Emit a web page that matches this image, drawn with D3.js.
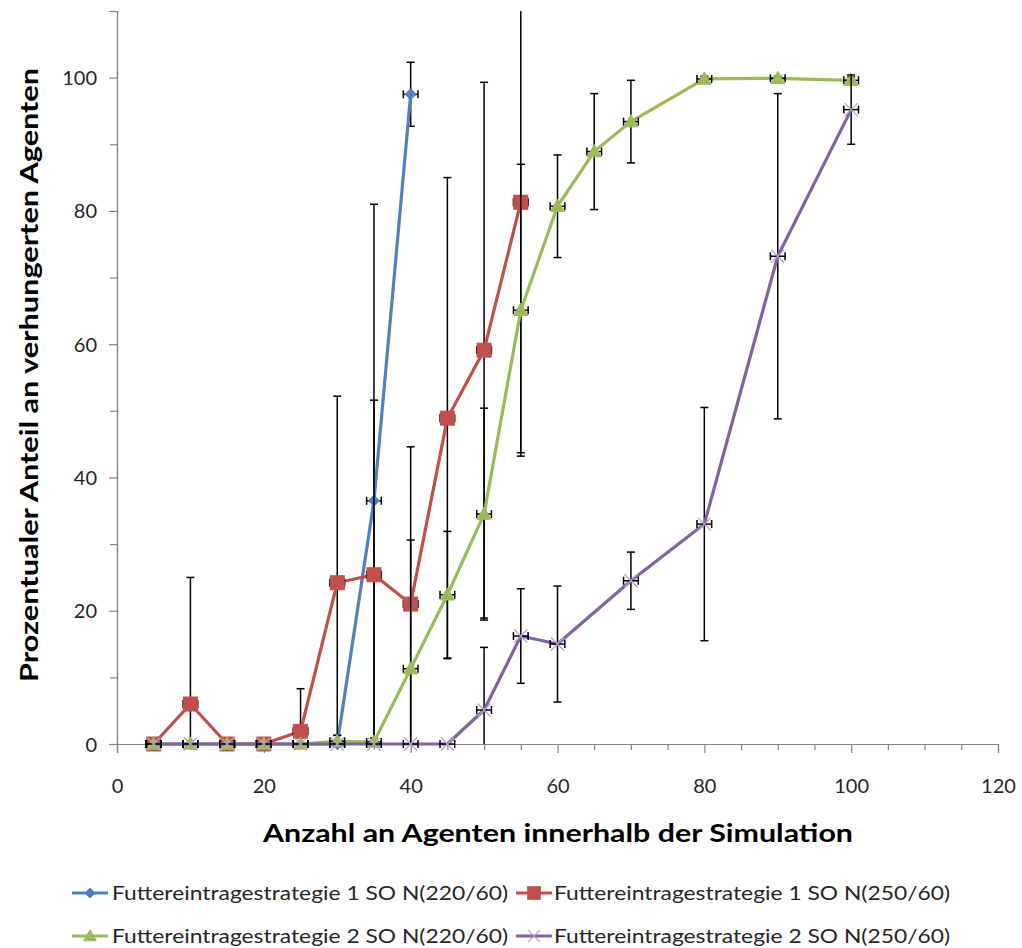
<!DOCTYPE html>
<html>
<head>
<meta charset="utf-8">
<script src="https://cdn.jsdelivr.net/npm/d3@7"></script>
<style>
  html, body { margin: 0; padding: 0; background: #fff; }
  svg { display: block; font-family: Lato, "Open Sans", sans-serif; }
</style>
</head>
<body>
<svg id="chart" width="1022" height="948"></svg>
<script>
// Agents in the simulation (x) and share of starved agents in percent (y), with standard deviations
const xS1a = [5, 10, 15, 20, 25, 30, 35, 40];
const yS1a = [0, 0, 0, 0, 0, 0, 36.5, 97.5];
const eS1a = [0, 0, 0, 0, 0, 1.3, 44.5, 4.8];

const xS1b = [5, 10, 15, 20, 25, 30, 35, 40, 45, 50, 55];
const yS1b = [0, 6.0, 0, 0, 1.9, 24.2, 25.4, 21.0, 48.9, 59.1, 81.3];
const eS1b = [0, 19.0, 0, 0, 6.4, 28.0, 26.2, 23.6, 36.1, 40.2, 37.6];

const xS2a = [5, 10, 15, 20, 25, 30, 35, 40, 45, 50, 55, 60, 65, 70, 80, 90, 100];
const yS2a = [0, 0, 0, 0, 0, 0.4, 0.3, 11.3, 22.4, 34.5, 65.1, 80.7, 88.9, 93.4, 99.8, 99.9, 99.6];
const eS2a = [0, 0, 0, 0, 0, 0.9, 0.6, 19.3, 9.5, 15.9, 21.9, 7.7, 8.7, 6.2, 0.4, 0.3, 0.5];

const xS2b = [5, 10, 15, 20, 25, 30, 35, 40, 45, 50, 55, 60, 70, 80, 90, 100];
const yS2b = [0, 0, 0, 0, 0, 0, 0, 0, 0, 5.1, 16.2, 15.0, 24.5, 33.0, 73.2, 95.2];
const eS2b = [0, 0, 0, 0, 0, 0, 0, 0, 0, 9.4, 7.1, 8.7, 4.3, 17.5, 24.4, 5.2];

// horizontal error (agents), same for every point
const xErr = 1;

const seriesNames = [
  "Futtereintragestrategie 1 SO N(220/60)",
  "Futtereintragestrategie 1 SO N(250/60)",
  "Futtereintragestrategie 2 SO N(220/60)",
  "Futtereintragestrategie 2 SO N(250/60)"
];
const xTicks = [0, 20, 40, 60, 80, 100, 120];
const yTicks = [0, 20, 40, 60, 80, 100];
const xTitle = "Anzahl an Agenten innerhalb der Simulation";
const yTitle = "Prozentualer Anteil an verhungerten Agenten";

const series = [
  { name: seriesNames[0], xs: xS1a, ys: yS1a, es: eS1a, color: "#4F81BD", marker: "diamond" },
  { name: seriesNames[1], xs: xS1b, ys: yS1b, es: eS1b, color: "#C0504D", marker: "square" },
  { name: seriesNames[2], xs: xS2a, ys: yS2a, es: eS2a, color: "#9BBB59", marker: "triangle" },
  { name: seriesNames[3], xs: xS2b, ys: yS2b, es: eS2b, color: "#8064A2", marker: "cross" }
];

const svg = d3.select("#chart");
const x = d3.scaleLinear().domain([0, 120]).range([117, 998]);
const y = d3.scaleLinear().domain([0, 110]).range([744, 11]);
const axisColor = "#868686";
const textColor = "#262626";

svg.append("defs").append("clipPath").attr("id", "plot")
  .append("rect").attr("x", x(0)).attr("y", y(110)).attr("width", x(120) - x(0)).attr("height", y(0) - y(110));

// ---- axes ----
const yAxisMajor = d3.axisLeft(y).tickValues(yTicks).tickSize(8).tickFormat(d3.format("d"));
const yAxisMinor = d3.axisLeft(y).tickValues(d3.range(10, 111, 20)).tickSize(7).tickFormat("");
const xAxisMajor = d3.axisBottom(x).tickValues(xTicks).tickSize(9).tickFormat(d3.format("d"));
const xAxisMinor = d3.axisBottom(x).tickValues(d3.range(5, 120, 5).filter(v => v % 20 !== 0)).tickSize(6).tickFormat("");

function styleAxis(g) {
  g.selectAll(".domain").attr("stroke", axisColor).attr("stroke-width", 1.2);
  g.selectAll(".tick line").attr("stroke", axisColor).attr("stroke-width", 1.2);
  g.selectAll(".tick text").attr("fill", textColor).attr("font-size", 20).attr("font-family", "Lato, sans-serif");
}

svg.append("g").attr("transform", `translate(${x(0)},0)`).call(yAxisMinor).call(styleAxis);
svg.append("g").attr("transform", `translate(${x(0)},0)`).call(yAxisMajor).call(styleAxis)
  .selectAll(".tick text").attr("x", -20).attr("dy", "0.35em");
svg.append("g").attr("transform", `translate(0,${y(0)})`).call(xAxisMinor).call(styleAxis);
svg.append("g").attr("transform", `translate(0,${y(0)})`).call(xAxisMajor).call(styleAxis)
  .selectAll(".tick text").attr("y", 42).attr("dy", "0.35em");

// ---- axis titles ----
svg.append("text")
  .attr("x", 558).attr("y", 842)
  .attr("text-anchor", "middle")
  .attr("font-size", 25).attr("font-weight", "bold").attr("fill", "#000")
  .attr("textLength", 590).attr("lengthAdjust", "spacingAndGlyphs")
  .text(xTitle);

svg.append("text")
  .attr("transform", "translate(38,375) rotate(-90)")
  .attr("text-anchor", "middle")
  .attr("font-size", 25).attr("font-weight", "bold").attr("fill", "#000")
  .attr("textLength", 614).attr("lengthAdjust", "spacingAndGlyphs")
  .text(yTitle);

// ---- markers ----
function drawMarker(g, type, color, cx, cy, scale = 1) {
  if (type === "diamond") {
    const r = 5.5 * scale;
    g.append("path").attr("d", `M${cx},${cy - r}L${cx + r},${cy}L${cx},${cy + r}L${cx - r},${cy}Z`)
      .attr("fill", color).attr("stroke", color).attr("stroke-width", 1);
  } else if (type === "square") {
    const r = 7 * scale;
    g.append("rect").attr("x", cx - r).attr("y", cy - r).attr("width", 2 * r).attr("height", 2 * r)
      .attr("fill", color).attr("stroke", color).attr("stroke-width", 1);
  } else if (type === "triangle") {
    const r = 7 * scale;
    g.append("path").attr("d", `M${cx},${cy - r}L${cx + r},${cy + r * 0.75}L${cx - r},${cy + r * 0.75}Z`)
      .attr("fill", color).attr("stroke", color).attr("stroke-width", 1);
  } else if (type === "cross") {
    const r = 6.5 * scale;
    g.append("path").attr("d", `M${cx - r},${cy - r}L${cx + r},${cy + r}M${cx - r},${cy + r}L${cx + r},${cy - r}`)
      .attr("stroke", "#B3A2C7").attr("stroke-width", 1.2).attr("fill", "none");
  }
}

const plot = svg.append("g");
const line = d3.line().x(d => x(d.x)).y(d => y(d.y));

series.forEach(s => {
  const pts = s.xs.map((v, i) => ({ x: v, y: s.ys[i], e: s.es[i] }));
  const g = plot.append("g");
  const clipped = g.append("g").attr("clip-path", "url(#plot)");

  // series line
  g.append("path").datum(pts).attr("d", line)
    .attr("fill", "none").attr("stroke", s.color).attr("stroke-width", 3.2)
    .attr("stroke-linejoin", "round");

  // vertical error bars (kept inside the plot area)
  const eb = clipped.append("g").attr("stroke", "#000").attr("stroke-width", 1.5).attr("fill", "none");
  pts.filter(p => p.e > 0).forEach(p => {
    const cx = x(p.x);
    eb.append("line").attr("x1", cx).attr("x2", cx).attr("y1", y(p.y + p.e)).attr("y2", y(p.y - p.e));
    eb.append("line").attr("x1", cx - 4).attr("x2", cx + 4).attr("y1", y(p.y + p.e)).attr("y2", y(p.y + p.e));
    eb.append("line").attr("x1", cx - 4).attr("x2", cx + 4).attr("y1", y(p.y - p.e)).attr("y2", y(p.y - p.e));
  });
  // horizontal error bars
  const hb = g.append("g").attr("stroke", "#000").attr("stroke-width", 1.5).attr("fill", "none");
  pts.forEach(p => {
    const cy = y(p.y);
    hb.append("line").attr("x1", x(p.x - xErr)).attr("x2", x(p.x + xErr)).attr("y1", cy).attr("y2", cy);
    hb.append("line").attr("x1", x(p.x - xErr)).attr("x2", x(p.x - xErr)).attr("y1", cy - 4).attr("y2", cy + 4);
    hb.append("line").attr("x1", x(p.x + xErr)).attr("x2", x(p.x + xErr)).attr("y1", cy - 4).attr("y2", cy + 4);
  });

  // markers
  const mg = g.append("g");
  pts.forEach(p => drawMarker(mg, s.marker, s.color, x(p.x), y(p.y)));
});

// ---- legend ----
const legendPos = [
  { lx: 72, tx: 112, cy: 893 },
  { lx: 516, tx: 554, cy: 893 },
  { lx: 72, tx: 112, cy: 936 },
  { lx: 516, tx: 554, cy: 936 }
];
series.forEach((s, i) => {
  const p = legendPos[i];
  const g = svg.append("g");
  g.append("line").attr("x1", p.lx).attr("x2", p.lx + 36).attr("y1", p.cy).attr("y2", p.cy)
    .attr("stroke", s.color).attr("stroke-width", 3.2);
  drawMarker(g, s.marker, s.color, p.lx + 18, p.cy, 0.9);
  g.append("text").attr("x", p.tx).attr("y", p.cy).attr("dy", "0.35em")
    .attr("font-size", 19).attr("fill", textColor)
    .attr("textLength", 396).attr("lengthAdjust", "spacingAndGlyphs")
    .text(s.name);
});
</script>
</body>
</html>
